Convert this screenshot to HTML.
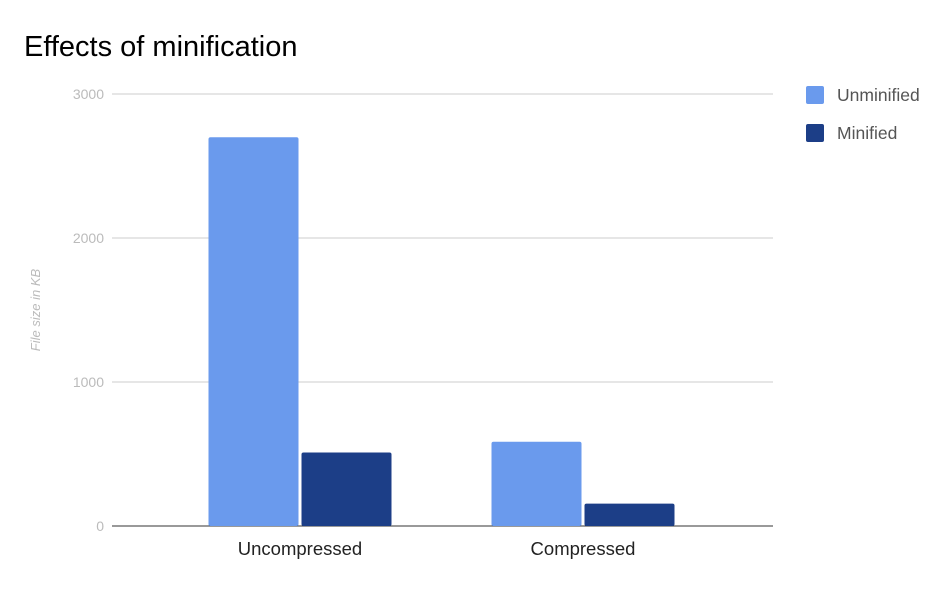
<!DOCTYPE html>
<html><head><meta charset="utf-8"><style>
body{margin:0;background:#fff;width:952px;height:586px;overflow:hidden;font-family:"Liberation Sans",sans-serif}
</style></head><body>
<svg id="chart" width="952" height="586" xmlns="http://www.w3.org/2000/svg">
<text x="24" y="56" font-size="29" fill="#000">Effects of minification</text>
<text transform="translate(40,310) rotate(-90)" text-anchor="middle" font-size="13" font-style="italic" fill="#bbb">File size in KB</text>
<g id="grid"></g><g id="bars"></g><g id="labels"></g>
<g>
<rect x="806" y="86" width="18" height="18" rx="2" fill="#6a9aed"/>
<text x="837" y="101" font-size="17.5" fill="#555">Unminified</text>
<rect x="806" y="124" width="18" height="18" rx="2" fill="#1c3e87"/>
<text x="837" y="139" font-size="17.5" fill="#555">Minified</text>
</g>
</svg>
<script>
const categories=["Uncompressed","Compressed"];
const unminified=[2700,585];
const minified=[510,155];
const ticks=[0,1000,2000,3000];
const NS="http://www.w3.org/2000/svg";
const x0=112,x1=773,yBase=526,yTop=94,maxV=3000;
const y=v=>yBase-(v/maxV)*(yBase-yTop);
const bandStart=158.5,groupW=283;
const cx=i=>bandStart+groupW*(i+0.5);
function mk(t,a,p){const e=document.createElementNS(NS,t);for(const k in a)e.setAttribute(k,a[k]);document.getElementById(p).appendChild(e);return e;}
ticks.forEach(t=>{
 const l=mk('line',{x1:x0,x2:x1,y1:y(t),y2:y(t),stroke:t===0?'#333':'#ccc','stroke-width':1},'grid');
 
 
 const tx=mk('text',{x:104,y:y(t)+5,'text-anchor':'end','font-size':14,fill:'#bbb'},'grid');
 tx.textContent=t;
 
 
});
categories.forEach((c,i)=>{
 const bw=90,gap=3;
 [[unminified,'#6a9aed','unminified',-1],[minified,'#1c3e87','minified',0]].forEach(([arr,col,nm,off])=>{
  const bx=off<0?cx(i)-gap/2-bw:cx(i)+gap/2;
  const r=mk('rect',{x:bx,y:y(arr[i]),width:bw,height:yBase-y(arr[i]),fill:col,rx:2},'bars');
  
  
 });
 const t=mk('text',{x:cx(i),y:555,'text-anchor':'middle','font-size':18.5,fill:'#222'},'labels');
 t.textContent=c;
 
 
});
</script>
</body></html>
